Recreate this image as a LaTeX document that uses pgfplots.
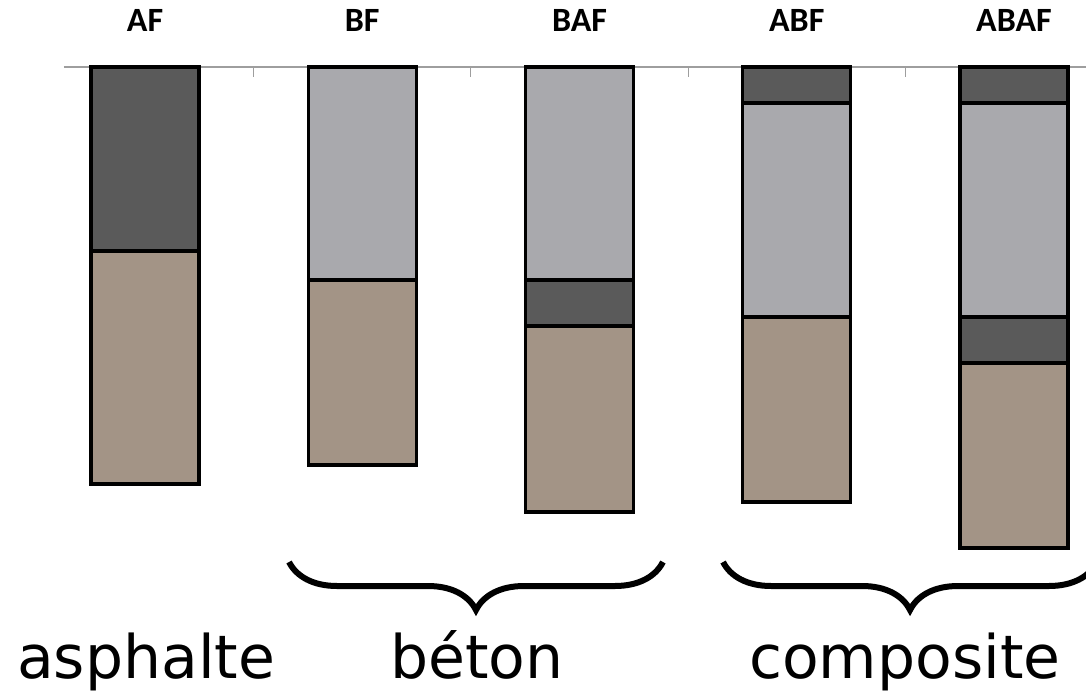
\documentclass[border=0pt]{standalone}
\usepackage{pgfplots}
\pgfplotsset{compat=1.18}
\usepackage{fontspec}
\setmainfont{DejaVu Sans}
\newfontfamily\carlito{Carlito}
\usetikzlibrary{calc,decorations.pathreplacing}

\definecolor{asph}{HTML}{5A5A5A}
\definecolor{beton}{HTML}{A9A9AD}
\definecolor{fond}{HTML}{A39486}

\begin{document}
\begin{tikzpicture}[
    toplab/.style={anchor=base, font=\carlito\bfseries\fontsize{17}{20}\selectfont},
    botlab/.style={anchor=base, font=\fontsize{30}{36}\selectfont},
  ]
\begin{axis}[
    scale only axis,
    width=511pt, height=312.5pt,
    xmin=-0.3729, xmax=4.3315,
    ymin=-625, ymax=0,
    ybar stacked, bar width=54pt,
    axis x line*=top,
    hide y axis,
    xtick={0.5,1.5,2.5,3.5},
    xticklabels={},
    tick align=inside,
    major tick length=5pt,
    axis line style={draw=black!38, line width=0.6pt},
    tick style={draw=black!38, line width=0.6pt},
    clip=false,
    every axis plot/.append style={draw=black, line width=1.6pt},
  ]
  % couches du haut vers le bas (épaisseurs en px, négatives)
  \addplot[fill=asph] coordinates {(0,-184) (1,0) (2,0) (3,-36) (4,-36)};
  \addplot[fill=beton] coordinates {(0,0) (1,-213) (2,-213) (3,-214) (4,-214)};
  \addplot[fill=asph] coordinates {(0,0) (1,0) (2,-46) (3,0) (4,-46)};
  \addplot[fill=fond] coordinates {(0,-233) (1,-185) (2,-186) (3,-185) (4,-185)};

  \node[toplab] at (axis cs:0,35) {AF};
  \node[toplab] at (axis cs:1,35) {BF};
  \node[toplab] at (axis cs:2,35) {BAF};
  \node[toplab] at (axis cs:3,35) {ABF};
  \node[toplab] at (axis cs:4,35) {ABAF};

  \draw[decorate, decoration={brace, mirror, amplitude=24pt}, line width=3pt]
    (axis cs:0.663,-495) -- (axis cs:2.384,-495);
  \draw[decorate, decoration={brace, mirror, amplitude=24pt}, line width=3pt]
    (axis cs:2.661,-495) -- (axis cs:4.382,-495);

  \node[botlab] at (axis cs:0.005,-611) {asphalte};
  \node[botlab] at (axis cs:1.528,-611) {béton};
  \node[botlab] at (axis cs:3.498,-611) {composite};
\end{axis}
\pgfresetboundingbox
\path[use as bounding box] ($(current axis.south west)+(-32pt,0)$) rectangle ($(current axis.north east)+(0,33.5pt)$);
\end{tikzpicture}
\end{document}
